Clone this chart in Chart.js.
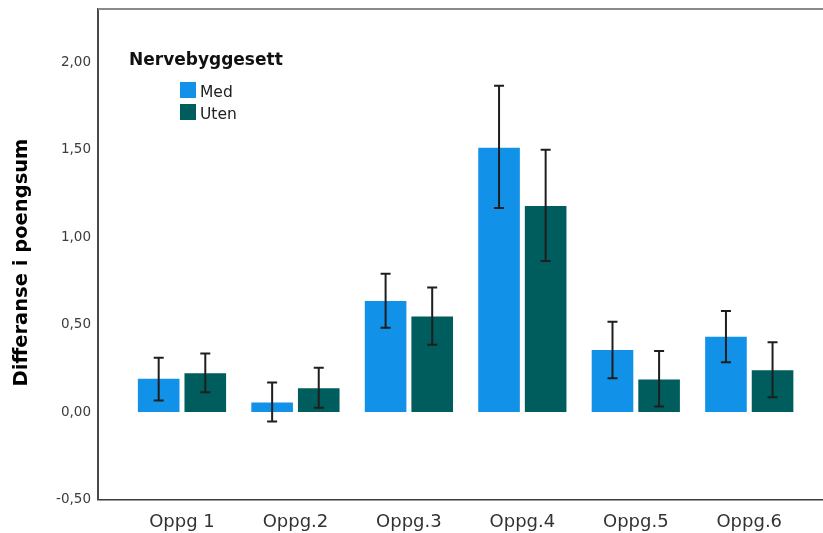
<!DOCTYPE html>
<html>
<head>
<meta charset="utf-8">
<script src="https://cdn.jsdelivr.net/npm/chart.js@4.4.1/dist/chart.umd.min.js"></script>
<style>
  html, body { margin: 0; padding: 0; background: #ffffff; overflow: hidden; }
  #wrap { width: 850px; height: 533px; }
</style>
</head>
<body>
<div id="wrap"><canvas id="c" width="850" height="533"></canvas></div>
<script>
// Tasks on the x axis
const categories = ['Oppg 1', 'Oppg.2', 'Oppg.3', 'Oppg.4', 'Oppg.5', 'Oppg.6'];

// Mean score difference per task, with and without the nerve kit
const medMean = [0.19, 0.055, 0.635, 1.51, 0.355, 0.43];
const utenMean = [0.222, 0.136, 0.546, 1.177, 0.186, 0.239];

// Error bar limits (lower / upper)
const medLow = [0.066, -0.054, 0.482, 1.166, 0.193, 0.285];
const medHigh = [0.31, 0.169, 0.79, 1.864, 0.516, 0.577];
const utenLow = [0.113, 0.024, 0.384, 0.863, 0.031, 0.085];
const utenHigh = [0.335, 0.253, 0.712, 1.498, 0.348, 0.398];

// Value axis ticks
const yTicks = [-0.5, 0, 0.5, 1.0, 1.5, 2.0];

const legendTitle = 'Nervebyggesett';
const yTitle = 'Differanse i poengsum';

const FONT = '"DejaVu Sans", "Liberation Sans", Arial, sans-serif';

function toPoints(values) {
  return values.map((v, i) => ({ x: i + 1, y: v }));
}

// Whiskers with caps drawn on top of each bar
const errorBars = {
  id: 'errorBars',
  afterDatasetsDraw(chart) {
    const ctx = chart.ctx;
    const yScale = chart.scales.y;
    ctx.save();
    ctx.strokeStyle = '#1e1e1e';
    ctx.lineWidth = 2;
    chart.data.datasets.forEach((ds, di) => {
      const meta = chart.getDatasetMeta(di);
      meta.data.forEach((bar, i) => {
        const x = bar.x;
        const yLo = yScale.getPixelForValue(ds.errLow[i]);
        const yHi = yScale.getPixelForValue(ds.errHigh[i]);
        const cap = 5;
        ctx.beginPath();
        ctx.moveTo(x, yLo);
        ctx.lineTo(x, yHi);
        ctx.moveTo(x - cap, yHi);
        ctx.lineTo(x + cap, yHi);
        ctx.moveTo(x - cap, yLo);
        ctx.lineTo(x + cap, yLo);
        ctx.stroke();
      });
    });
    ctx.restore();
  }
};

// Top frame line, rotated axis title and the in-plot legend
const decorations = {
  id: 'decorations',
  afterDraw(chart) {
    const ctx = chart.ctx;
    const area = chart.chartArea;
    ctx.save();

    ctx.strokeStyle = '#8a8a8a';
    ctx.lineWidth = 2;
    ctx.beginPath();
    ctx.moveTo(area.left, area.top);
    ctx.lineTo(area.right, area.top);
    ctx.stroke();

    ctx.save();
    ctx.translate(21.7, 262.5);
    ctx.rotate(-Math.PI / 2);
    ctx.fillStyle = '#000000';
    ctx.font = 'bold 19.5px ' + FONT;
    ctx.textAlign = 'center';
    ctx.textBaseline = 'middle';
    ctx.fillText(yTitle, 0, 0);
    ctx.restore();

    ctx.fillStyle = '#111111';
    ctx.font = 'bold 17px ' + FONT;
    ctx.textAlign = 'left';
    ctx.textBaseline = 'alphabetic';
    ctx.fillText(legendTitle, 129, 65);

    ctx.font = '15.5px ' + FONT;
    chart.data.datasets.forEach((ds, i) => {
      const top = 82 + i * 22;
      ctx.fillStyle = ds.backgroundColor;
      ctx.fillRect(180, top, 16, 16);
      ctx.fillStyle = '#222222';
      ctx.fillText(ds.label, 200, top + 15);
    });

    ctx.restore();
  }
};

new Chart(document.getElementById('c'), {
  type: 'bar',
  data: {
    datasets: [
      {
        label: 'Med',
        data: toPoints(medMean),
        errLow: medLow,
        errHigh: medHigh,
        backgroundColor: '#1192e8',
        categoryPercentage: 0.8215,
        barPercentage: 0.893
      },
      {
        label: 'Uten',
        data: toPoints(utenMean),
        errLow: utenLow,
        errHigh: utenHigh,
        backgroundColor: '#005d5d',
        categoryPercentage: 0.8215,
        barPercentage: 0.893
      }
    ]
  },
  options: {
    responsive: false,
    animation: false,
    layout: { padding: { top: 9, left: 0, right: 0, bottom: 0 } },
    plugins: {
      legend: { display: false },
      tooltip: { enabled: false }
    },
    scales: {
      x: {
        type: 'linear',
        offset: false,
        min: 0.2597,
        max: 6.888,
        grid: { display: false, drawTicks: false },
        border: { display: true, color: '#3a3a3a', width: 1.5 },
        afterBuildTicks(scale) {
          scale.ticks = categories.map((_, i) => ({ value: i + 1 }));
        },
        afterFit(scale) {
          scale.height = 33.5;
          scale.paddingLeft = 0;
          scale.paddingRight = 0;
        },
        ticks: {
          autoSkip: false,
          maxRotation: 0,
          padding: 12,
          color: '#333333',
          font: { family: FONT, size: 18 },
          callback: (value, index) => categories[index]
        }
      },
      y: {
        min: -0.5,
        max: 2.303,
        grid: { display: false, drawTicks: false },
        border: { display: true, color: '#4a4a4a', width: 2 },
        afterBuildTicks(scale) {
          scale.ticks = yTicks.map(v => ({ value: v }));
        },
        afterFit(scale) {
          scale.width = 98;
          scale.paddingTop = 0;
          scale.paddingBottom = 0;
        },
        ticks: {
          padding: 7,
          color: '#3c3c3c',
          font: { family: FONT, size: 13.5 },
          callback: (value) => value.toFixed(2).replace('.', ',')
        }
      }
    }
  },
  plugins: [errorBars, decorations]
});
</script>
</body>
</html>
